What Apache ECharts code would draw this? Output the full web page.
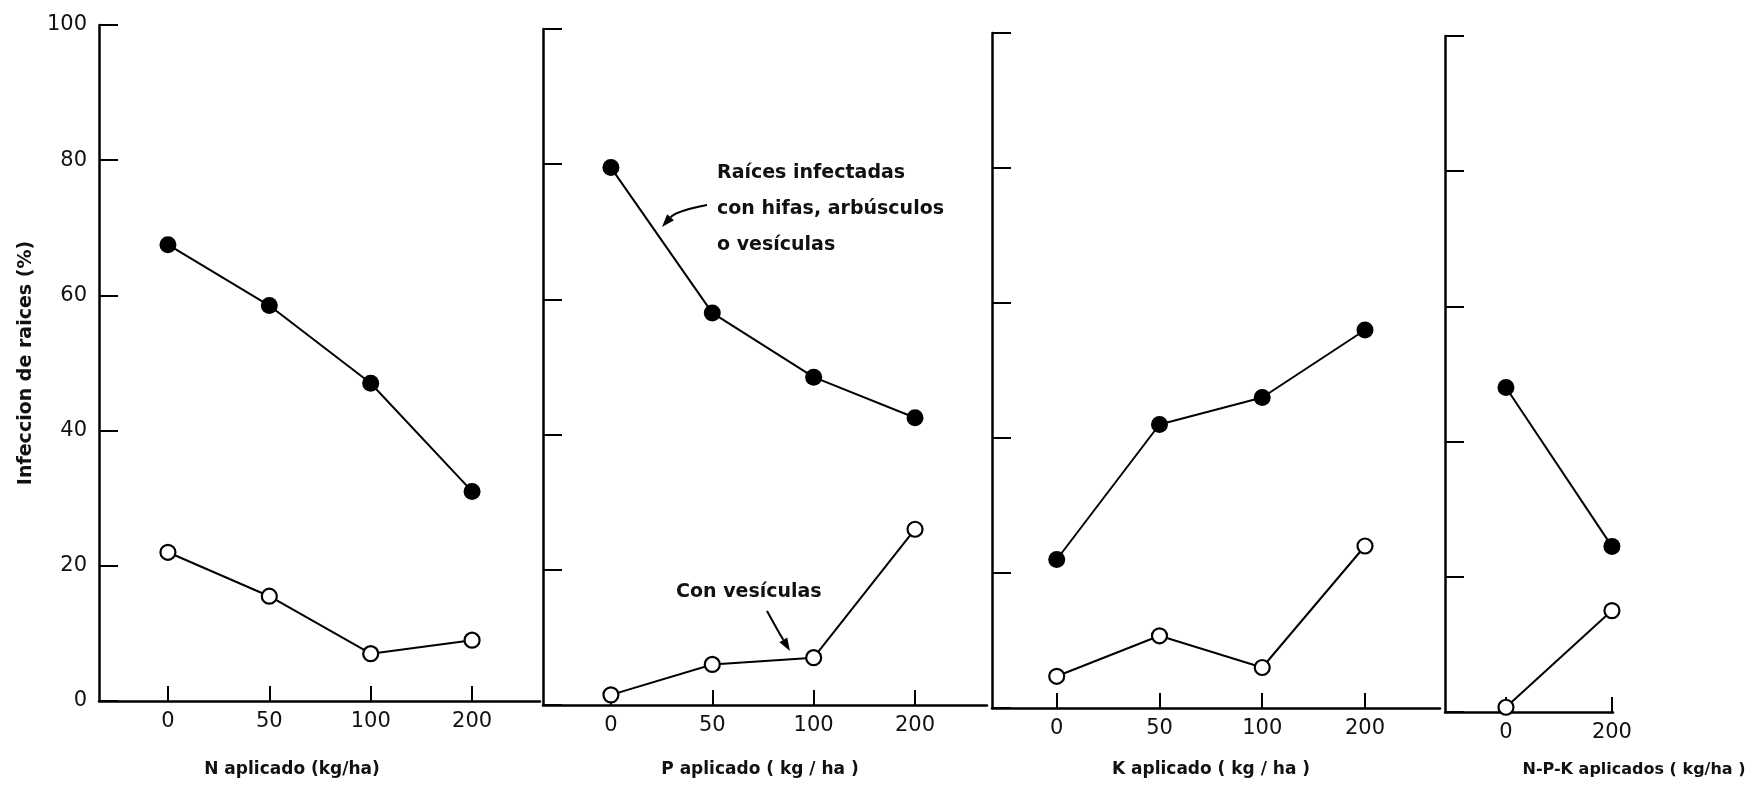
<!DOCTYPE html>
<html>
<head>
<meta charset="utf-8">
<script src="https://cdn.jsdelivr.net/npm/echarts@6/dist/echarts.min.js"></script>
<style>
  html, body { margin: 0; padding: 0; background: #fff; }
  #chart { width: 1750px; height: 797px; }
</style>
</head>
<body>
<div id="chart"></div>
<script>
// Dosis aplicadas (kg/ha) en cada panel
const dosisN = ['0', '50', '100', '200'];
const dosisP = ['0', '50', '100', '200'];
const dosisK = ['0', '50', '100', '200'];
const dosisNPK = ['0', '200'];

// Raíces infectadas con hifas, arbúsculos o vesículas (%)
const hifasN = [67.5, 58.5, 47, 31];
const hifasP = [79.5, 58, 48.5, 42.5];
const hifasK = [22, 42, 46, 56];
const hifasNPK = [48, 24.5];

// Raíces con vesículas (%)
const vesiculasN = [22, 15.5, 7, 9];
const vesiculasP = [1.5, 6, 7, 26];
const vesiculasK = [4.7, 10.7, 6, 24];
const vesiculasNPK = [0.7, 15];

// Eje vertical
const yMin = 0, yMax = 100, yStep = 20;

const titulosX = [
  'N aplicado (kg/ha)',
  'P aplicado ( kg / ha )',
  'K aplicado ( kg / ha )',
  'N-P-K aplicados ( kg/ha )'
];
const tituloY = 'Infeccion de raices (%)';

const paneles = [
  { dosis: dosisN, hifas: hifasN, ves: vesiculasN },
  { dosis: dosisP, hifas: hifasP, ves: vesiculasP },
  { dosis: dosisK, hifas: hifasK, ves: vesiculasK },
  { dosis: dosisNPK, hifas: hifasNPK, ves: vesiculasNPK }
];

// Caja de cada panel y extensión del eje horizontal (en posiciones de categoría)
const cajas = [
  { left: 99,   top: 25, width: 441, height: 676, xmin: -0.68, xmax: 3.67, tx: 292, ts: 17 },
  { left: 543,  top: 29, width: 444, height: 676, xmin: -0.67, xmax: 3.71, tx: 760, ts: 17 },
  { left: 992,  top: 33, width: 448, height: 675, xmin: -0.63, xmax: 3.73, tx: 1211, ts: 17 },
  { left: 1445, top: 36, width: 168, height: 676, xmin: -0.575, xmax: 1.01, tx: 1634, ts: 16 }
];

const FONT = 'DejaVu Sans';
const NEGRO = '#000';

const grid = [], xAxis = [], yAxis = [], series = [];

paneles.forEach((p, i) => {
  const c = cajas[i];
  grid.push({ left: c.left, top: c.top, width: c.width, height: c.height });
  const idx = p.dosis.map((_, k) => k);
  xAxis.push({
    type: 'value', gridIndex: i, min: c.xmin, max: c.xmax,
    axisLine: { show: true, onZero: false, lineStyle: { color: NEGRO, width: 2.5 } },
    axisTick: { show: true, inside: true, length: 15, customValues: idx,
                lineStyle: { color: NEGRO, width: 2 } },
    axisLabel: { show: true, customValues: idx, margin: 10,
                 formatter: v => p.dosis[Math.round(v)],
                 fontFamily: FONT, fontSize: 21, color: '#111' },
    splitLine: { show: false }
  });
  yAxis.push({
    type: 'value', gridIndex: i, min: yMin, max: yMax, interval: yStep,
    axisLine: { show: true, onZero: false, lineStyle: { color: NEGRO, width: 2.5 } },
    axisTick: { show: true, inside: true, length: 19, lineStyle: { color: NEGRO, width: 2 } },
    axisLabel: { show: i === 0, margin: 12, fontFamily: FONT, fontSize: 21, color: '#111' },
    splitLine: { show: false },
    name: i === 0 ? tituloY : '',
    nameLocation: 'middle', nameRotate: 90, nameGap: 63,
    nameTextStyle: { fontFamily: FONT, fontSize: 19, fontWeight: 'bold', color: '#111' }
  });
  series.push({
    type: 'line', xAxisIndex: i, yAxisIndex: i,
    data: p.hifas.map((v, k) => [k, v]),
    symbol: 'circle', symbolSize: 17,
    lineStyle: { color: NEGRO, width: 2 },
    itemStyle: { color: NEGRO },
    animation: false, z: 3
  });
  series.push({
    type: 'line', xAxisIndex: i, yAxisIndex: i,
    data: p.ves.map((v, k) => [k, v]),
    symbol: 'circle', symbolSize: 15,
    lineStyle: { color: NEGRO, width: 2 },
    itemStyle: { color: '#fff', borderColor: NEGRO, borderWidth: 2.2 },
    animation: false, z: 3
  });
});

// Flecha de anotación: trazo curvo y punta triangular
function flecha(x1, y1, cx, cy, x2, y2) {
  const dx = x2 - cx, dy = y2 - cy, L = Math.hypot(dx, dy);
  const ux = dx / L, uy = dy / L, largo = 13, ancho = 4.5;
  const bx = x2 - ux * largo, by = y2 - uy * largo;
  return [
    { type: 'bezierCurve', shape: { x1, y1, x2: bx, y2: by, cpx1: cx, cpy1: cy },
      style: { stroke: NEGRO, lineWidth: 2, fill: null }, z: 10 },
    { type: 'polygon',
      shape: { points: [[x2, y2], [bx - uy * ancho, by + ux * ancho], [bx + uy * ancho, by - ux * ancho]] },
      style: { fill: NEGRO }, z: 10 }
  ];
}

const graphic = [];
cajas.forEach((c, i) => {
  graphic.push({
    type: 'text', x: c.tx, y: 770,
    style: { text: titulosX[i], fontFamily: FONT, fontSize: c.ts, fontWeight: 'bold',
             fill: '#111', align: 'center', verticalAlign: 'middle' }
  });
});
graphic.push({
  type: 'text', x: 717, y: 155,
  style: { text: 'Raíces infectadas\ncon hifas, arbúsculos\no vesículas',
           fontFamily: FONT, fontSize: 19, fontWeight: 'bold', lineHeight: 36,
           fill: '#111', align: 'left', verticalAlign: 'top' }
});
graphic.push({
  type: 'text', x: 676, y: 592,
  style: { text: 'Con vesículas', fontFamily: FONT, fontSize: 19, fontWeight: 'bold',
           fill: '#111', align: 'left', verticalAlign: 'middle' }
});
graphic.push(...flecha(707, 205, 676, 211, 662, 227));
graphic.push(...flecha(767, 611, 778, 631, 790, 651));

const chart = echarts.init(document.getElementById('chart'), null, { renderer: 'canvas' });
chart.setOption({
  backgroundColor: '#fff',
  animation: false,
  grid, xAxis, yAxis, series, graphic
});
</script>
</body>
</html>
